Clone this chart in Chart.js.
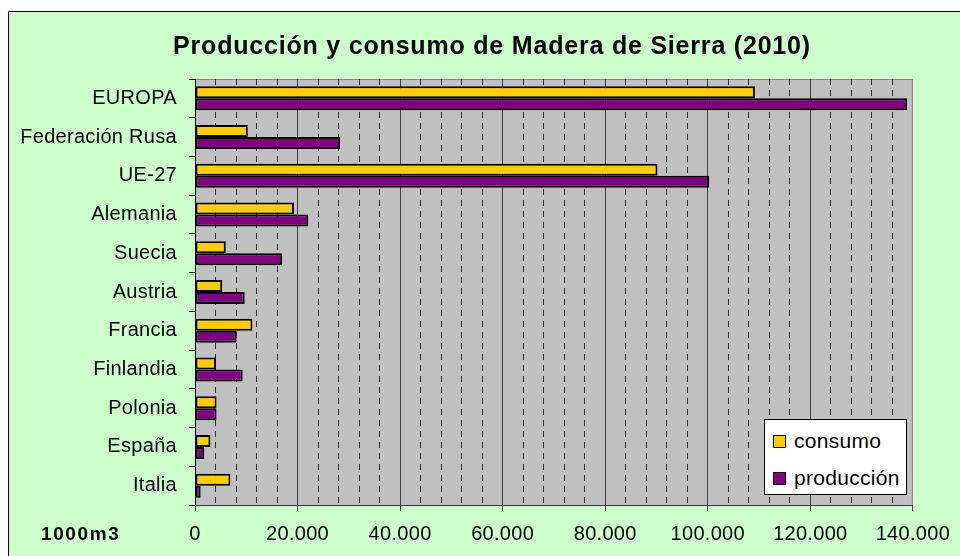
<!DOCTYPE html>
<html>
<head>
<meta charset="utf-8">
<script src="https://cdn.jsdelivr.net/npm/chart.js@4"></script>
<style>
  html, body { margin:0; padding:0; background:#fff; }
  #wrap { position:relative; width:960px; height:556px; overflow:hidden; }
  #frame { position:absolute; left:8px; top:11px; right:0; bottom:0; background:#ccffcc;
           border-left:1px solid #000; border-top:1px solid #000; }
  #c { position:absolute; left:0; top:0; }
  #legend { position:absolute; left:764px; top:419px; width:141px; height:74px; background:#fff;
            border:1px solid #000; font-family:"Liberation Sans", Arial, sans-serif; font-size:21px;
            letter-spacing:0.3px; color:#000; }
  .row { position:absolute; left:8px; height:24px; display:flex; align-items:center; }
  .mk { width:11px; height:11px; border:1px solid #000; margin-right:8px; }
</style>
</head>
<body>
<div id="wrap">
  <div id="frame"></div>
  <canvas id="c" width="960" height="556"></canvas>
  <div id="legend"></div>
</div>
<script>
const categories = ['EUROPA','Federación Rusa','UE-27','Alemania','Suecia','Austria','Francia','Finlandia','Polonia','España','Italia'];
const consumo    = [109200, 10300, 90200, 19300, 6000, 5300, 11200, 4100, 4200, 3000, 6900];
const produccion = [138900, 28300, 100300, 22100, 17000, 9700, 8100, 9300, 4200, 1800, 1100];
const seriesNames = ['consumo', 'producción'];
const seriesColors = ['#FFCC00', '#800080'];
const titleText = 'Producción y consumo de Madera de Sierra (2010)';
const unitText = '1000m3';
const xMax = 140000, majorStep = 20000, minorStep = 4000;

const FONT = '"Liberation Sans", Arial, sans-serif';
function fmt(v){ return String(v).replace(/\B(?=(\d{3})+(?!\d))/g, '.'); }

const decor = {
  id: 'decor',
  beforeDraw(chart) {
    const {ctx, chartArea:a} = chart;
    ctx.letterSpacing = '0.3px';
    ctx.save();
    ctx.fillStyle = '#C0C0C0';
    ctx.fillRect(a.left, a.top, a.right - a.left, a.bottom - a.top);
    ctx.strokeStyle = '#808080';
    ctx.lineWidth = 1;
    ctx.strokeRect(a.left + 0.5, a.top + 0.5, a.right - a.left - 1, a.bottom - a.top);
    ctx.restore();
  },
  afterDraw(chart) {
    const {ctx} = chart;
    ctx.save();
    ctx.fillStyle = '#000';
    ctx.letterSpacing = '0.8px';
    ctx.font = 'bold 25px ' + FONT;
    ctx.textAlign = 'center';
    ctx.textBaseline = 'alphabetic';
    ctx.fillText(titleText, 492, 54);
    ctx.letterSpacing = '1.6px';
    ctx.font = 'bold 19px ' + FONT;
    ctx.textAlign = 'left';
    ctx.textBaseline = 'middle';
    ctx.fillText(unitText, 41, 535);
    ctx.restore();
  }
};

new Chart(document.getElementById('c'), {
  type: 'bar',
  data: {
    labels: categories,
    datasets: [
      { label: seriesNames[0], data: consumo, backgroundColor: seriesColors[0], borderColor:'#000', borderWidth:2, borderSkipped:false },
      { label: seriesNames[1], data: produccion, backgroundColor: seriesColors[1], borderColor:'#000', borderWidth:2, borderSkipped:false }
    ]
  },
  options: {
    indexAxis: 'y',
    responsive: false,
    animation: false,
    devicePixelRatio: 1,
    layout: { padding: { top: 79, left: 0, right: 45, bottom: 11 } },
    datasets: { bar: { barPercentage: 1, categoryPercentage: 0.62 } },
    plugins: { legend: { display: false }, title: { display: false }, tooltip: { enabled: false } },
    scales: {
      y: {
        afterFit(s){ s.width = 195; },
        grid: { drawOnChartArea: false, drawTicks: true, tickLength: 6, color: '#000', offset: true },
        border: { display: true, color: '#000', width: 1 },
        ticks: { color: '#000', font: { family: FONT, size: 20 }, padding: 12, autoSkip: false }
      },
      x: {
        min: 0, max: xMax,
        afterFit(s){ s.height = 40; },
        grid: {
          color: c => (c.tick && (c.tick.value === 0 || c.tick.value === xMax)) ? 'rgba(0,0,0,0)' : '#404040',
          tickColor: '#404040', tickLength: 6, lineWidth: 1
        },
        border: { display: true, color: '#333', width: 1 },
        ticks: { stepSize: majorStep, color: '#000', font: { family: FONT, size: 20 }, padding: 11,
                 callback: v => fmt(v), maxRotation: 0, autoSkip: false }
      },
      x2: {
        axis: 'x', type: 'linear', position: 'top', min: 0, max: xMax,
        afterFit(s){ s.height = 0; },
        ticks: { display: false, stepSize: minorStep },
        grid: {
          drawTicks: false, lineWidth: 1,
          color: c => (c.tick && c.tick.value % majorStep === 0) ? 'rgba(0,0,0,0)' : '#303030'
        },
        border: { display: false, dash: [6, 5] }
      }
    }
  },
  plugins: [decor]
});

const leg = document.getElementById('legend');
seriesNames.forEach((n, i) => {
  const r = document.createElement('div');
  r.className = 'row';
  r.style.top = (i === 0 ? 9 : 46) + 'px';
  const m = document.createElement('div');
  m.className = 'mk';
  m.style.background = seriesColors[i];
  const t = document.createElement('span');
  t.textContent = n;
  r.appendChild(m); r.appendChild(t);
  leg.appendChild(r);
});
</script>
</body>
</html>
